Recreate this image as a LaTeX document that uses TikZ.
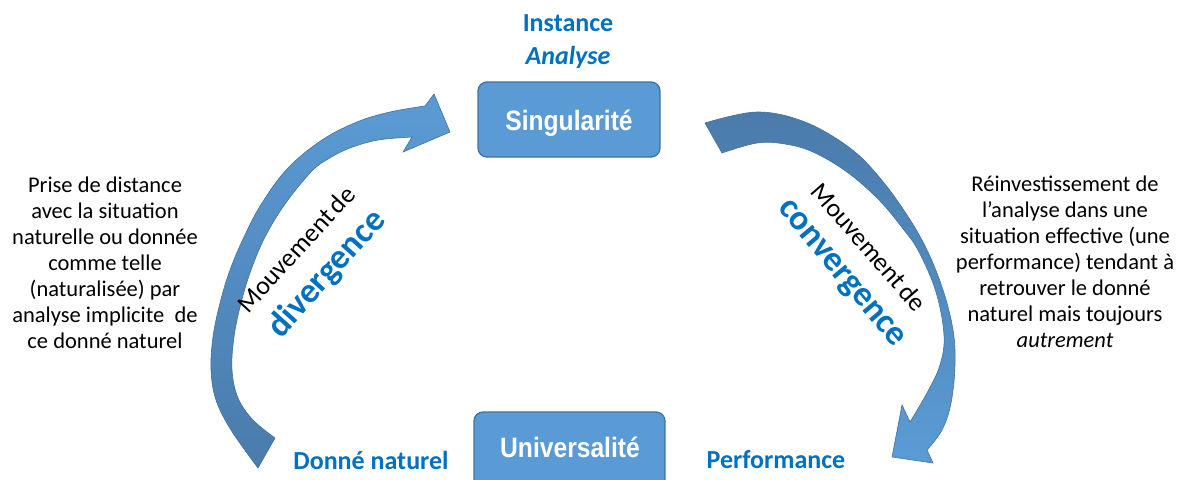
\documentclass[tikz,border=0pt]{standalone}
\usepackage{fontspec}
\setmainfont{Carlito}
\newfontfamily\arialfont{Liberation Sans}
\usepackage{graphicx}
\definecolor{boxfill}{HTML}{5B9BD5}
\definecolor{boxedge}{HTML}{41719C}
\definecolor{labelblue}{HTML}{0070C0}
\definecolor{arrowdark}{HTML}{4A7BAB}
\definecolor{arrowlight}{HTML}{5B9BD5}
\tikzset{
  boxnode/.style={draw=boxedge, line width=1.3pt, fill=boxfill, rounded corners=9pt, inner sep=0pt},
  boxlabel/.style={text=white, font=\arialfont\bfseries\fontsize{28}{30}\selectfont, text height=20pt, text depth=0pt, inner sep=0pt},
  bluelabel/.style={text=labelblue, font=\bfseries\fontsize{26}{28}\selectfont, inner sep=0pt},
  bodytext/.style={align=center, font=\fontsize{22.5}{26}\selectfont, inner sep=0pt},
  movetext/.style={font=\fontsize{26}{28}\selectfont, inner sep=0pt},
  movekey/.style={text=labelblue, font=\bfseries\fontsize{35}{38}\selectfont, inner sep=0pt},
  arrowbody/.style={draw=boxedge, line width=0.6pt, line join=miter}
}
\begin{document}
\begin{tikzpicture}[x=1pt,y=-1pt]
\clip (0,0) rectangle (1177,479);
\useasboundingbox (0,0) rectangle (1177,479);

% left circular arrow (divergence)
\path[arrowbody, top color=arrowlight, bottom color=arrowdark]
  plot[smooth, tension=0.6] coordinates {(258,468) (231,430) (216,400) (211,370) (213,337) (220,303) (230,270) (244,237) (262,203) (288,168) (322,140) (357,122) (390,112) (425,106)}
  -- (434,94) -- (450,132) -- (403,152) -- (412,137)
  -- plot[smooth, tension=0.6] coordinates {(412,137) (378,140) (350,148) (328,159) (311,172) (285,204) (265,237) (251,270) (241,303) (234,337) (232,370) (238,398) (253,420) (275,438)}
  -- cycle;

% right circular arrow (convergence)
\path[arrowbody, top color=arrowdark, bottom color=arrowlight]
  plot[smooth, tension=0.6] coordinates {(705,123) (757,112) (805,122) (850,148) (880,178) (907,215) (927,250) (943,290) (953,330) (955,365) (951,403) (942,430) (927,450)}
  -- (933,463) -- (892,457) -- (902,405) -- (910,422)
  -- plot[smooth, tension=0.6] coordinates {(910,422) (927,393) (940,365) (944,335) (936,292) (919,252) (904,230) (879,200) (847,172) (813,152) (785,144) (757,143) (722,153)}
  -- cycle;

% boxes
\node[boxnode, minimum width=182pt, minimum height=75pt] (sing) at (569,119.5) {};
\node[boxlabel] (singlabel) at (569,120) {\scalebox{0.88}[1]{Singularité}};
\node[boxnode, minimum width=191pt, minimum height=86pt] (univ) at (569.5,455) {};
\node[boxlabel] (univlabel) at (570,447) {\scalebox{0.88}[1]{Universalité}};

% blue labels
\node[bluelabel] (instance) at (568,23) {Instance};
\node[bluelabel] (analyse) at (568,57) {\itshape Analyse};
\node[bluelabel] (donne) at (371,460) {Donné naturel};
\node[bluelabel] (perf) at (776,460) {Performance};

% rotated movement labels
\node[movetext, rotate=47.5] (mvleft) at (296,249) {Mouvement\hspace{4pt}de};
\node[movekey, rotate=48] (div) at (327,274) {divergence};
\node[movetext, rotate=-49] (mvright) at (869,247) {Mouvement\hspace{4pt}de};
\node[movekey, rotate=-50] (conv) at (840,275) {convergence};

% side texts
\node[bodytext] (lefttext) at (105,263) {Prise de distance\\avec la situation\\naturelle ou donnée\\comme telle\\(naturalisée) par\\analyse implicite\ \ de\\ce donné naturel};
\node[bodytext] (righttext) at (1065,262) {Réinvestissement de\\l’analyse dans une\\situation effective (une\\performance) tendant à\\retrouver le donné\\naturel mais toujours\\\textit{autrement}};
\end{tikzpicture}
\end{document}
